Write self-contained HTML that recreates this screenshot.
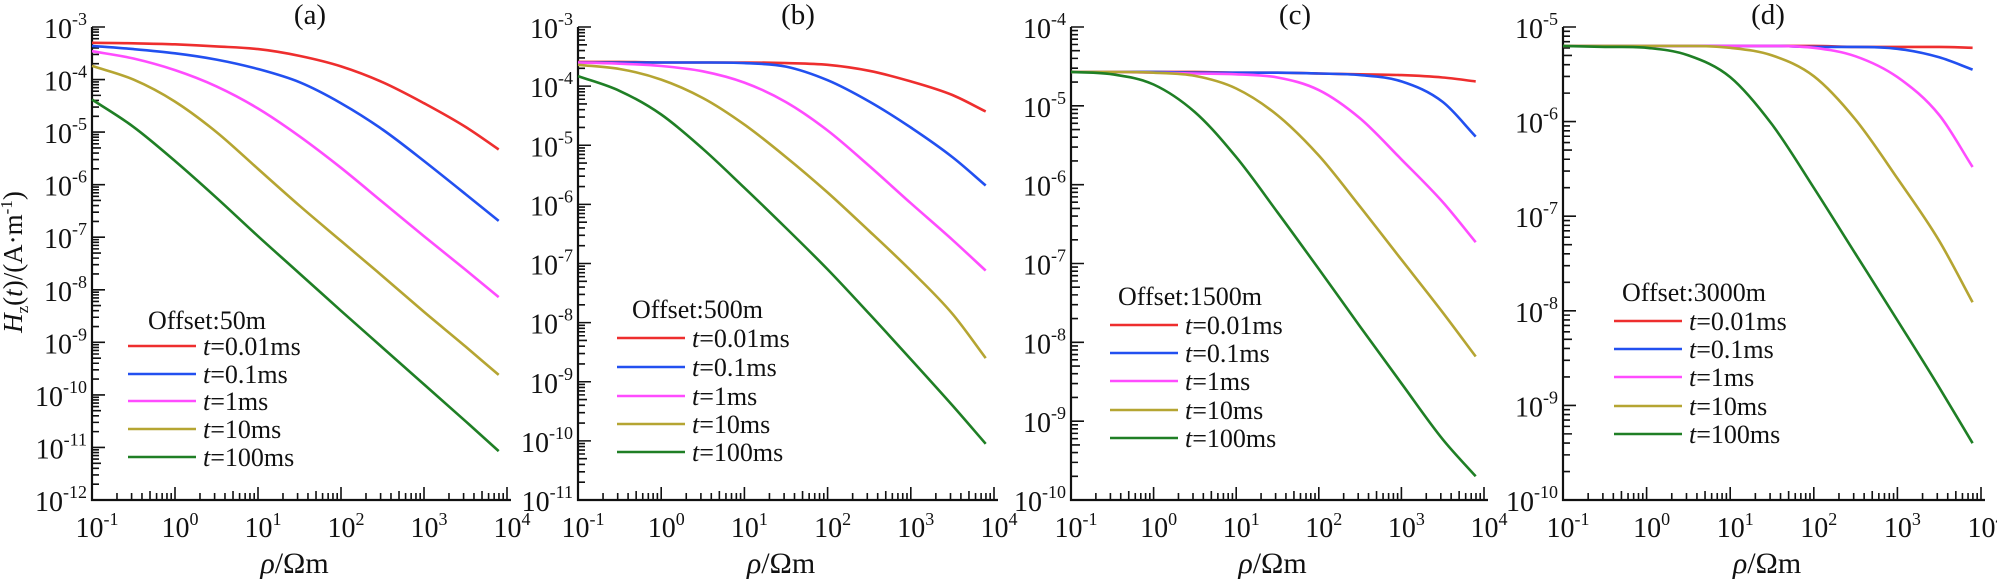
<!DOCTYPE html>
<html><head><meta charset="utf-8"><style>
body{margin:0;background:#fff;}
svg text{font-family:"Liberation Serif",serif;fill:#111;}
</style></head><body>
<svg id="fig" width="1997" height="579" viewBox="0 0 1997 579" xmlns="http://www.w3.org/2000/svg"></svg>
<script>
const xLogs = [-1,-0.5,0,0.5,1,1.5,2,2.5,3,3.5,3.9];
const seriesLabels = ["t=0.01ms","t=0.1ms","t=1ms","t=10ms","t=100ms"];
const seriesColors = ["#ee2e2e","#2250f0","#ff4cff","#b5a532","#1f7f25"];
const xTickExps = [-1,0,1,2,3,4];
const panelTitles = ["(a)","(b)","(c)","(d)"];
const offsets = ["Offset:50m","Offset:500m","Offset:1500m","Offset:3000m"];
const yTopExp = [-3,-3,-4,-5];
const yBotExp = [-12,-11,-10,-10];
const dataA = [
 [-3.3,-3.31,-3.33,-3.37,-3.42,-3.55,-3.75,-4.05,-4.45,-4.9,-5.33],
 [-3.36,-3.42,-3.5,-3.62,-3.8,-4.05,-4.45,-4.95,-5.55,-6.18,-6.69],
 [-3.46,-3.6,-3.82,-4.13,-4.55,-5.08,-5.68,-6.33,-6.98,-7.62,-8.14],
 [-3.74,-4.0,-4.42,-5.0,-5.7,-6.4,-7.07,-7.74,-8.42,-9.08,-9.62],
 [-4.38,-4.9,-5.55,-6.25,-6.98,-7.69,-8.4,-9.1,-9.8,-10.5,-11.07]];
const dataB = [
 [-3.59,-3.59,-3.6,-3.6,-3.6,-3.61,-3.64,-3.74,-3.92,-4.15,-4.43],
 [-3.6,-3.6,-3.6,-3.6,-3.61,-3.67,-3.9,-4.26,-4.7,-5.2,-5.68],
 [-3.6,-3.62,-3.66,-3.75,-3.94,-4.27,-4.75,-5.35,-5.98,-6.6,-7.12],
 [-3.64,-3.71,-3.89,-4.2,-4.65,-5.2,-5.8,-6.45,-7.12,-7.85,-8.6],
 [-3.83,-4.08,-4.48,-5.06,-5.72,-6.4,-7.1,-7.85,-8.62,-9.4,-10.05]];
const dataC = [
 [-4.57,-4.57,-4.57,-4.57,-4.58,-4.58,-4.59,-4.6,-4.61,-4.64,-4.69],
 [-4.57,-4.57,-4.57,-4.58,-4.58,-4.58,-4.59,-4.61,-4.69,-4.95,-5.39],
 [-4.57,-4.57,-4.58,-4.59,-4.6,-4.64,-4.8,-5.16,-5.68,-6.22,-6.73],
 [-4.57,-4.57,-4.58,-4.62,-4.78,-5.12,-5.63,-6.28,-6.95,-7.62,-8.18],
 [-4.57,-4.6,-4.73,-5.08,-5.65,-6.35,-7.07,-7.8,-8.52,-9.23,-9.7]];
const dataD = [
 [-5.2,-5.2,-5.2,-5.2,-5.2,-5.2,-5.2,-5.21,-5.21,-5.21,-5.22],
 [-5.2,-5.2,-5.2,-5.2,-5.2,-5.2,-5.21,-5.21,-5.23,-5.32,-5.45],
 [-5.2,-5.2,-5.2,-5.2,-5.2,-5.2,-5.22,-5.31,-5.53,-5.93,-6.48],
 [-5.2,-5.2,-5.2,-5.2,-5.22,-5.3,-5.52,-5.98,-6.6,-7.26,-7.91],
 [-5.2,-5.21,-5.22,-5.3,-5.53,-6.03,-6.7,-7.4,-8.1,-8.81,-9.4]];
const allData = [dataA,dataB,dataC,dataD];

const NS="http://www.w3.org/2000/svg";
const svg=document.getElementById('fig');
function mk(tag,attrs,parent){const e=document.createElementNS(NS,tag);for(const k in attrs)e.setAttribute(k,attrs[k]);(parent||svg).appendChild(e);return e;}
const panelX0=[92,578,1071,1563], panelX1=[507,994,1484,1981];
const legY=[[320,346,374,401,429,457],[309,338,367,396,424,452],[296,325,353,381,410,438],[292,321,349,377,406,434]];
const legX=[[148,128,196,203],[632,617,685,692],[1118,1110,1178,1185],[1622,1614,1682,1689]];
const Y0=27, Y1=500;

function smoothPath(pts){
 const n=pts.length, m=[];
 const d=[];for(let i=0;i<n-1;i++)d.push((pts[i+1][1]-pts[i][1])/(pts[i+1][0]-pts[i][0]));
 m[0]=d[0];m[n-1]=d[n-2];
 for(let i=1;i<n-1;i++){m[i]=(d[i-1]*d[i]<=0)?0:(d[i-1]+d[i])/2;}
 let s='M'+pts[0][0].toFixed(1)+','+pts[0][1].toFixed(1);
 for(let i=0;i<n-1;i++){const h=pts[i+1][0]-pts[i][0];
  s+=' C'+(pts[i][0]+h/3).toFixed(1)+','+(pts[i][1]+m[i]*h/3).toFixed(1)+' '+(pts[i+1][0]-h/3).toFixed(1)+','+(pts[i+1][1]-m[i+1]*h/3).toFixed(1)+' '+pts[i+1][0].toFixed(1)+','+pts[i+1][1].toFixed(1);}
 return s;}

for(let p=0;p<4;p++){
 const g=mk('g',{});
 
 
 const x0=panelX0[p],x1=panelX1[p];
 const sx=v=>x0+(v+1)/5*(x1-x0);
 const sy=v=>Y0+(yTopExp[p]-v)/(yTopExp[p]-yBotExp[p])*(Y1-Y0);
 const ax=mk('path',{d:`M${x0},${Y0} L${x0},${Y1} L${x1+4},${Y1}`,stroke:'#111','stroke-width':2.2,fill:'none'},g);
 
 
 let td='';
 for(let e=-1;e<=4;e++){const X=sx(e);td+=`M${X},${Y1} v-13 `;
  if(e<4)for(let m=2;m<=9;m++){const Xm=sx(e+Math.log10(m));td+=`M${Xm},${Y1} v-${m===5?9:7} `;}}
 for(let e=yTopExp[p];e>=yBotExp[p];e--){const Y=sy(e);td+=`M${x0},${Y} h13 `;
  if(e>yBotExp[p])for(let m=2;m<=9;m++){const Ym=sy(e-1+Math.log10(m));td+=`M${x0},${Ym} h${m===5?9:7} `;}}
 const tk=mk('path',{d:td,stroke:'#111','stroke-width':1.6,fill:'none'},g);
 
 
 xTickExps.forEach(e=>{const t=mk('text',{x:sx(e)+5,y:537,'font-size':28,'text-anchor':'middle'},g);
  
  
  t.textContent='10';const s=mk('tspan',{dy:-12,'font-size':18},t);s.textContent=e;});
 for(let e=yTopExp[p];e>=yBotExp[p];e--){const t=mk('text',{x:x0-5,y:sy(e)+11,'font-size':28,'text-anchor':'end'},g);
  
  
  t.textContent='10';const s=mk('tspan',{dy:-13,'font-size':18},t);s.textContent=e;}
 const xt=mk('text',{x:(x0+x1)/2-5,y:573,'font-size':30,'text-anchor':'middle'},g);
 
 
 const r1=mk('tspan',{'font-style':'italic'},xt);r1.textContent='ρ';const r2=mk('tspan',{},xt);r2.textContent='/Ωm';
 const pt=mk('text',{x:[310,798,1295,1768][p],y:24,'font-size':29,'text-anchor':'middle'},g);
 
 
 pt.textContent=panelTitles[p];
 allData[p].forEach((ser,i)=>{const pts=ser.map((v,j)=>[sx(xLogs[j]),sy(v)]);
  const pa=mk('path',{d:smoothPath(pts),stroke:seriesColors[i],'stroke-width':2.6,fill:'none'},g);
  
  });
 const L=legX[p],LY=legY[p];
 const lt=mk('text',{x:L[0],y:LY[0]+9,'font-size':26},g);
 
 
 lt.textContent=offsets[p];
 seriesLabels.forEach((lab,i)=>{const y=LY[i+1];
  const ln=mk('line',{x1:L[1],x2:L[2],y1:y,y2:y,stroke:seriesColors[i],'stroke-width':2.6},g);
  
  
  const t=mk('text',{x:L[3],y:y+9,'font-size':26},g);
  
  
  const a=mk('tspan',{'font-style':'italic'},t);a.textContent='t';const b=mk('tspan',{},t);b.textContent=lab.slice(1);});
}
const yt=mk('text',{x:0,y:0,'font-size':27,'text-anchor':'middle',transform:'translate(22,262) rotate(-90)'});


const h1=mk('tspan',{'font-style':'italic'},yt);h1.textContent='H';
const h2=mk('tspan',{'font-size':17,dy:6},yt);h2.textContent='z';
const h3=mk('tspan',{dy:-6},yt);h3.textContent='(';
const h4=mk('tspan',{'font-style':'italic'},yt);h4.textContent='t';
const h5=mk('tspan',{},yt);h5.textContent=')/(A·m';
const h6=mk('tspan',{'font-size':17,dy:-10},yt);h6.textContent='-1';
const h7=mk('tspan',{dy:10},yt);h7.textContent=')';
</script>
</body></html>
